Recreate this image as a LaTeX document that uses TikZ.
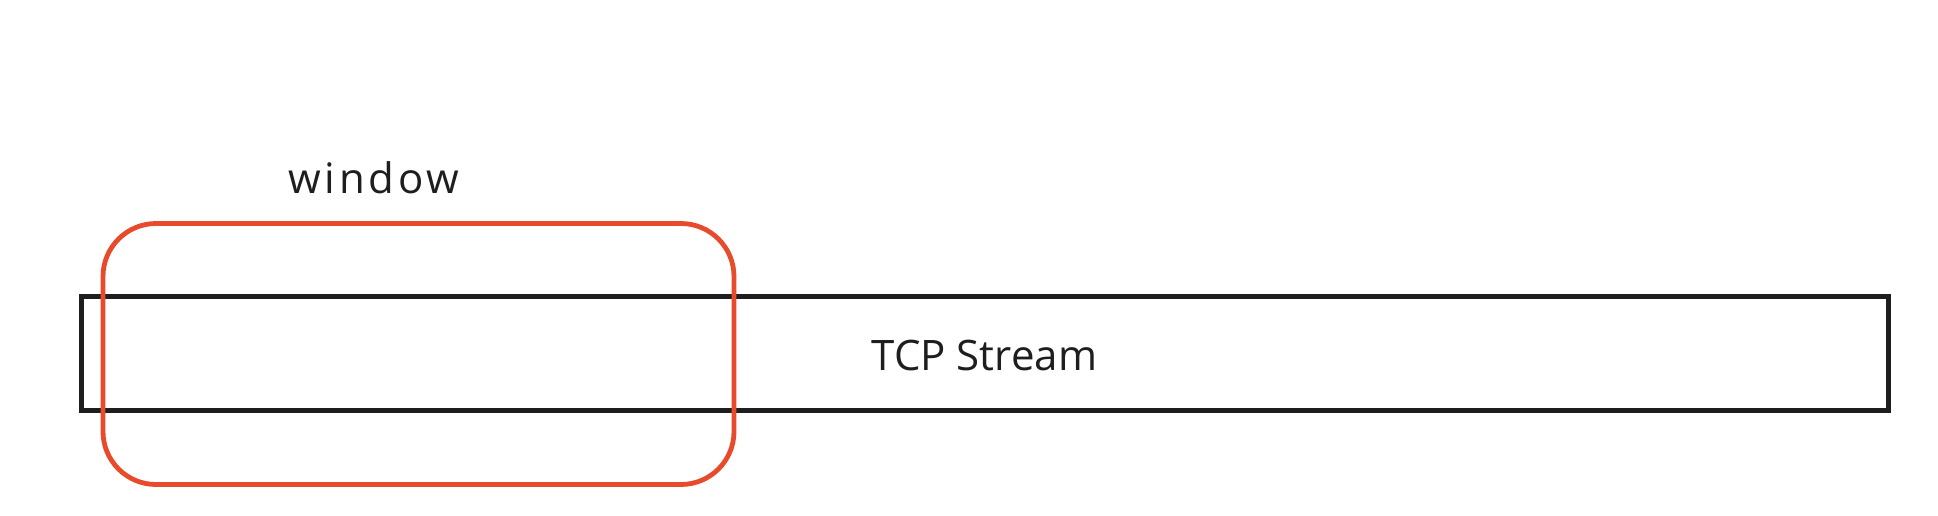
\documentclass[tikz,border=0pt]{standalone}
\usepackage{fontspec}
\setmainfont{Open Sans}
\newfontfamily\spacedfont[LetterSpace=9]{Open Sans}
\definecolor{winred}{HTML}{E84B2C}
\definecolor{ink}{HTML}{1E1E1E}
\begin{document}
\begin{tikzpicture}[x=1pt,y=-1pt,
  streambox/.style={draw=ink,line width=4.2pt,inner sep=0pt},
  winbox/.style={draw=winred,line width=4.8pt,rounded corners=53pt,inner sep=0pt},
  lbl/.style={text=ink,font=\fontsize{42}{50}\selectfont,inner sep=0pt,anchor=base}]
\useasboundingbox (0,0) rectangle (1938,515);
\node[streambox,minimum width=1807pt,minimum height=114pt] (stream) at (985,353.5) {};
\node[winbox,minimum width=631pt,minimum height=261pt] (window) at (418.5,354) {};
\node[lbl] (streamlbl) at (984.5,370.5) {TCP Stream};
\node[lbl,font=\spacedfont\fontsize{42}{50}\selectfont] (winlbl) at (374,193) {window};
\end{tikzpicture}
\end{document}
